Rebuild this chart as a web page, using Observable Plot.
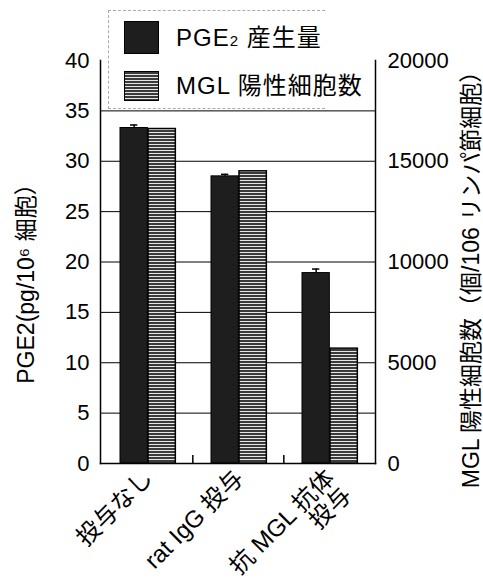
<!DOCTYPE html>
<html>
<head>
<meta charset="utf-8">
<script src="https://cdn.jsdelivr.net/npm/d3@7"></script>
<script src="https://cdn.jsdelivr.net/npm/@observablehq/plot@0.6"></script>
<style>
  body { margin: 0; background: #fff; }
  #wrap { position: relative; width: 483px; height: 583px; font-family: "Liberation Sans", "Noto Sans CJK JP", sans-serif; }
  #legend { position: absolute; left: 108px; top: 10px; width: 216px; height: 97px; border: 1px dashed #aaa; border-right: none; background: #fff; }
  #legend .sw { position: absolute; left: 15px; width: 35px; border: 1.5px solid #000; box-sizing: border-box; }
  #legend .lt { position: absolute; left: 67px; font-size: 24px; line-height: 24px; color: #000; letter-spacing: 1px; white-space: nowrap; }
</style>
</head>
<body>
<div id="wrap">
  <div id="chart"></div>
  <div id="legend"></div>
</div>
<script>
// ---- data ----
const categories = ["投与なし", "rat IgG 投与", "抗 MGL 抗体\n投与"];
const pge2 = [33.3, 28.5, 18.9];          // pg / 10^6 cells (left axis)
const pge2Err = [0.3, 0.2, 0.4];
const mgl = [16600, 14500, 5700];          // cells / 10^6 lymph node cells (right axis)
const leftTicks = [0, 5, 10, 15, 20, 25, 30, 35, 40];
const rightTicks = [0, 5000, 10000, 15000, 20000];
const gridTicks = [5, 10, 15, 20, 25, 30, 35];
const seriesNames = ["PGE2 産生量", "MGL 陽性細胞数"];
const leftLabel = "PGE2(pg/10⁶ 細胞）";
const rightLabel = "MGL 陽性細胞数（個/106 リンパ節細胞）";
const ratio = 20000 / 40;

const rows = categories.map((c, i) => ({cat: c, pge2: pge2[i], err: pge2Err[i], mgl: mgl[i]}));

// ---- layout ----
const W = 483, H = 583;
const mL = 100, mR = 108, mT = 60, mB = 120;
const bw = (W - mL - mR) / categories.length;
const frameH = H - mT - mB;
const font = "Liberation Sans, Noto Sans CJK JP, sans-serif";

const svg = Plot.plot({
  width: W, height: H,
  marginLeft: mL, marginRight: mR, marginTop: mT, marginBottom: mB,
  style: {fontFamily: font, color: "#000", background: "#fff"},
  x: {domain: categories, padding: 0, axis: null},
  y: {domain: [0, 40], axis: null},
  marks: [
    Plot.gridY(gridTicks, {stroke: "#000", strokeOpacity: 1, strokeWidth: 1}),
    Plot.barY(rows, {x: "cat", y: "pge2", fill: "#1e1e1e", stroke: "#000", strokeWidth: 1,
      insetLeft: 19, insetRight: bw - 47}),
    Plot.barY(rows, {x: "cat", y: d => d.mgl / ratio, fill: "url(#hatch)", stroke: "#000", strokeWidth: 1.5,
      insetLeft: 47, insetRight: bw - 75}),
    Plot.ruleX(rows, {x: "cat", y1: "pge2", y2: d => d.pge2 + d.err, dx: 14 + 19 - bw / 2, stroke: "#000", strokeWidth: 1.5}),
    Plot.tickY(rows, {x: "cat", y: d => d.pge2 + d.err, insetLeft: 29, insetRight: bw - 37, stroke: "#000", strokeWidth: 1.5}),
    Plot.frame({anchor: "left", stroke: "#000", strokeWidth: 1.5}),
    Plot.frame({anchor: "right", stroke: "#000", strokeWidth: 1.5}),
    Plot.frame({anchor: "bottom", stroke: "#000", strokeWidth: 1.5}),
    Plot.ruleX(categories.slice(0, -1), {x: d => d, dx: bw / 2, insetTop: frameH - 8, stroke: "#000", strokeWidth: 1.5}),
    Plot.axisY({ticks: leftTicks, tickSize: 0, tickPadding: 11, fontSize: 22, label: null, fontFamily: font}),
    Plot.axisY({anchor: "right", ticks: rightTicks.map(v => v / ratio), tickFormat: d => String(d * ratio),
      tickSize: 0, tickPadding: 12, fontSize: 22, label: null, fontFamily: font}),
    Plot.text(categories, {x: d => d, frameAnchor: "bottom", rotate: -45, textAnchor: "end", lineAnchor: "top",
      dx: -5, dy: 4, fontSize: 24, lineHeight: 1, fontFamily: font, fill: "#000"}),
    Plot.text([leftLabel], {frameAnchor: "left", rotate: -90, textAnchor: "middle", lineAnchor: "middle",
      dx: -74, dy: 16, fontSize: 23, fontFamily: font, fill: "#000"}),
    Plot.text([rightLabel], {frameAnchor: "right", rotate: -90, textAnchor: "middle", lineAnchor: "middle",
      dx: 96, dy: 12, fontSize: 23, fontFamily: font, fill: "#000"})
  ]
});

svg.insertAdjacentHTML("afterbegin",
  `<defs><pattern id="hatch" patternUnits="userSpaceOnUse" width="6" height="3">
     <rect width="6" height="3" fill="#e6e6e6"></rect>
     <rect y="1" width="6" height="2" fill="#3a3a3a"></rect>
   </pattern></defs>`);
document.getElementById("chart").appendChild(svg);

// ---- legend ----
const legend = document.getElementById("legend");
const items = [
  {name: seriesNames[0], top: 10, h: 33, bg: "#1e1e1e"},
  {name: seriesNames[1], top: 60, h: 30, bg: "repeating-linear-gradient(to bottom, #3a3a3a 0px, #3a3a3a 2px, #e6e6e6 2px, #e6e6e6 3px)"}
];
items.forEach(it => {
  const sw = document.createElement("div");
  sw.className = "sw";
  sw.style.top = it.top + "px";
  sw.style.height = it.h + "px";
  sw.style.background = it.bg;
  legend.appendChild(sw);
  const t = document.createElement("div");
  t.className = "lt";
  t.style.top = (it.top + it.h / 2 - 12) + "px";
  if (it.name.startsWith("PGE2")) {
    t.innerHTML = 'PGE<span style="font-size:15px">2</span>' + it.name.slice(4);
  } else {
    t.textContent = it.name;
  }
  legend.appendChild(t);
});
</script>
</body>
</html>
